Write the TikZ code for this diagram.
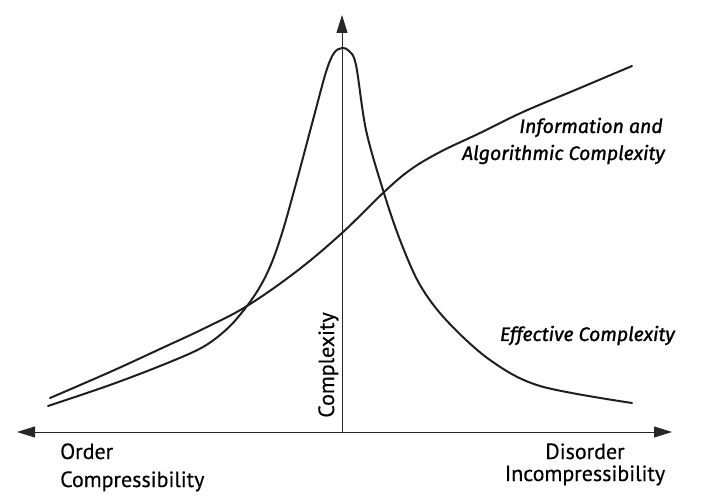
\documentclass[tikz,border=0pt]{standalone}
\usepackage{fontspec}
\setmainfont[FakeBold=0.4]{PT Sans}
\newfontfamily\curvefont[ItalicFeatures={FakeBold=1.3}]{Fira Sans}
\usetikzlibrary{arrows.meta}
\tikzset{
  axisline/.style={line width=0.9pt, draw=black!85},
  tipstyle/.style={-{Triangle[length=18pt,width=11pt]}},
  curveline/.style={line width=2pt, draw=black!88, line cap=round, line join=round},
  axislabel/.style={font=\fontsize{22}{24}\selectfont, text=black, inner sep=0pt},
  curvelabel/.style={font=\curvefont\itshape\fontsize{19.5}{22}\selectfont, text=black, inner sep=0pt},
}
\begin{document}
\begin{tikzpicture}[x=1pt,y=-1pt]
\useasboundingbox (0,0) rectangle (702,497);
\coordinate (origin) at (342,432);
\coordinate (xleft) at (17,432);
\coordinate (xright) at (672,432);
\coordinate (ytop) at (342,15);
\draw[axisline, tipstyle] (origin) -- (xright);
\draw[axisline, tipstyle] (origin) -- (xleft);
\draw[axisline, tipstyle] (origin) -- (ytop);

% Effective complexity (peaked) curve
\draw[curveline] plot[smooth, tension=0.55] coordinates {
 (48,406) (110,385) (165,364) (203,347) (228,328) (247,306) (261,285) (272,262)
 (283,230) (297,180) (313,120) (326,72) (334,53) (342,48) (349,51) (356,65)
 (366,130) (383,190) (400,240) (420,285) (447,321) (490,360) (540,386) (632,403)};

% Information and algorithmic complexity curve
\draw[curveline] plot[smooth, tension=0.6] coordinates {
 (50,398) (110,372) (160,349) (205,328) (247,306) (297,271) (342,233) (383,193)
 (410,170) (440,152) (480,133) (523,112) (580,88) (632,66)};

\node[axislabel, anchor=base west] (order) at (60,459) {Order};
\node[axislabel, anchor=base west] (compr) at (60,487) {Compressibility};
\node[axislabel, anchor=base] (disorder) at (585,459) {Disorder};
\node[axislabel, anchor=base] (incompr) at (585,481) {Incompressibility};
\node[axislabel, anchor=base, rotate=90] (cplx) at (334,365) {Complexity};

\node[curvelabel, anchor=base east] (info1) at (663,133) {Information and};
\node[curvelabel, anchor=base east] (info2) at (665,160) {Algorithmic Complexity};
\node[curvelabel, anchor=base east] (eff) at (675,341) {Effective Complexity};
\end{tikzpicture}
\end{document}
